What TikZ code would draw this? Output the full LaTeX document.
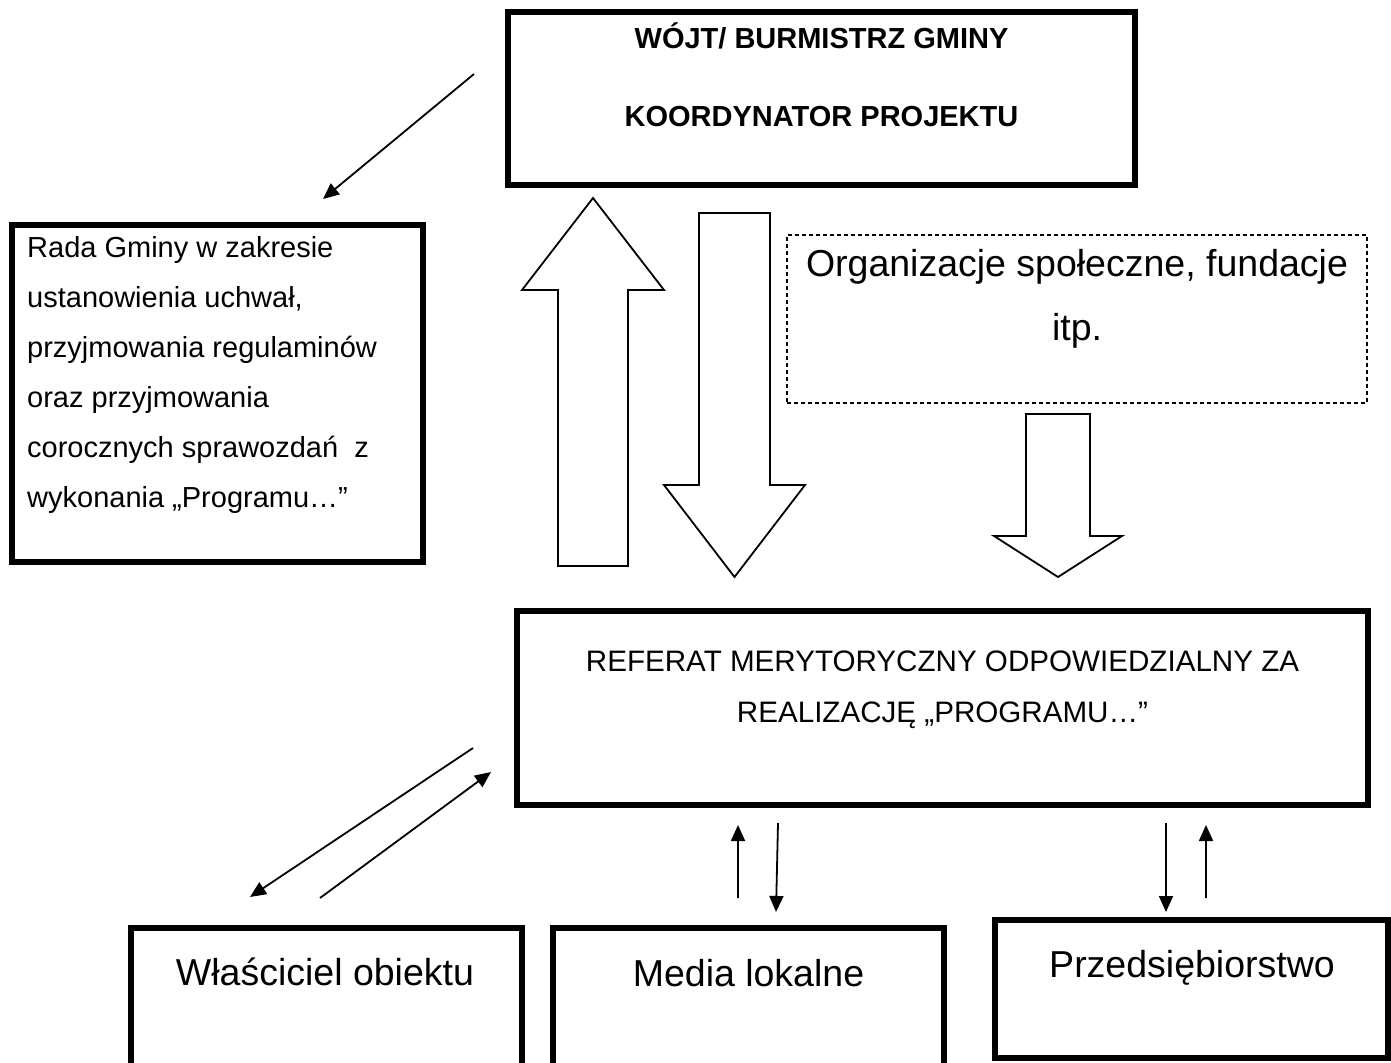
\documentclass[tikz,border=0pt]{standalone}
\usepackage{fontspec}
\setmainfont{Liberation Sans}
\usetikzlibrary{arrows.meta,positioning}
\tikzstyle{box}=[draw, rectangle, line width=5.5pt, inner sep=0pt]
\tikzstyle{dotbox}=[draw, rectangle, line width=1.8pt, dash pattern=on 4pt off 3pt, inner sep=0pt]
\tikzstyle{hollow}=[draw, line width=1.8pt, line join=miter]
\tikzstyle{link}=[line width=1.8pt, -{Triangle[length=16pt,width=14pt]}]
\tikzstyle{txt}=[inner sep=0pt, font=\fontsize{29}{50}\selectfont]
\tikzstyle{bigtxt}=[inner sep=0pt, font=\fontsize{37.5}{64}\selectfont]

\begin{document}
\begin{tikzpicture}[x=1pt, y=-1pt]
                    \useasboundingbox (0,0) rectangle (1391,1062);
                    % boxes
                    \node[box, minimum width=627pt, minimum height=173pt] (wojt) at (821.5,98.5) {};
                    \node[box, minimum width=411pt, minimum height=337pt] (rada) at (217.5,393.5) {};
                    \node[dotbox, minimum width=580pt, minimum height=168pt] (org) at (1077,319) {};
                    \node[box, minimum width=851pt, minimum height=194pt] (referat) at (942.5,708) {};
                    \node[box, minimum width=391pt, minimum height=200pt] (wlasc) at (326.5,1028) {};
                    \node[box, minimum width=391pt, minimum height=200pt] (media) at (748.5,1028) {};
                    \node[box, minimum width=393pt, minimum height=138pt] (przeds) at (1191.5,989) {};
                    % texts
                    \node[inner sep=0pt, font=\bfseries\fontsize{29}{78}\selectfont, align=center, anchor=base] at (821.5,127)
                        {WÓJT/ BURMISTRZ GMINY\\KOORDYNATOR PROJEKTU};
                    \node[txt, align=left, anchor=base west] at (27,507)
                        {Rada Gminy w zakresie\\ustanowienia uchwał,\\przyjmowania regulaminów\\oraz przyjmowania\\corocznych sprawozdań~ z\\wykonania „Programu…”};
                    \node[bigtxt, align=center, anchor=base] at (1077,340) {Organizacje społeczne, fundacje\\itp.};
                    \node[txt, font=\fontsize{29.6}{51}\selectfont, align=center, anchor=base] at (942.5,722)
                        {REFERAT MERYTORYCZNY ODPOWIEDZIALNY ZA\\REALIZACJĘ „PROGRAMU…”};
                    \node[bigtxt, anchor=base] at (325,985) {Właściciel obiektu};
                    \node[bigtxt, anchor=base] at (748.5,986) {Media lokalne};
                    \node[bigtxt, anchor=base] at (1192,977) {Przedsiębiorstwo};
                    % hollow arrows
                    \draw[hollow] (558,566) -- (558,290) -- (522,290) -- (593,198) -- (664,290) -- (628,290) -- (628,566) -- cycle;
                    \draw[hollow] (699,213) -- (699,485) -- (664,485) -- (734.5,577) -- (805,485) -- (770,485) -- (770,213) -- cycle;
                    \draw[hollow] (1026,414) -- (1026,536) -- (994,536) -- (1058,577) -- (1122,536) -- (1090,536) -- (1090,414) -- cycle;
                    % thin arrows
                    \coordinate (r1) at (474,74);   \coordinate (r2) at (323,199);
                    \coordinate (w1) at (473,748);  \coordinate (w2) at (250,897);
                    \coordinate (w3) at (320,898);  \coordinate (w4) at (491,772);
                    \coordinate (m1) at (738,898);  \coordinate (m2) at (738,825);
                    \coordinate (m3) at (778,823);  \coordinate (m4) at (776,912);
                    \coordinate (p1) at (1166,823); \coordinate (p2) at (1166,912);
                    \coordinate (p3) at (1206,898); \coordinate (p4) at (1206,825);
                    \draw[link] (r1) -- (r2);
                    \draw[link] (w1) -- (w2);
                    \draw[link] (w3) -- (w4);
                    \draw[link] (m1) -- (m2);
                    \draw[link] (m3) -- (m4);
                    \draw[link] (p1) -- (p2);
                    \draw[link] (p3) -- (p4);
                \end{tikzpicture}
\end{document}
